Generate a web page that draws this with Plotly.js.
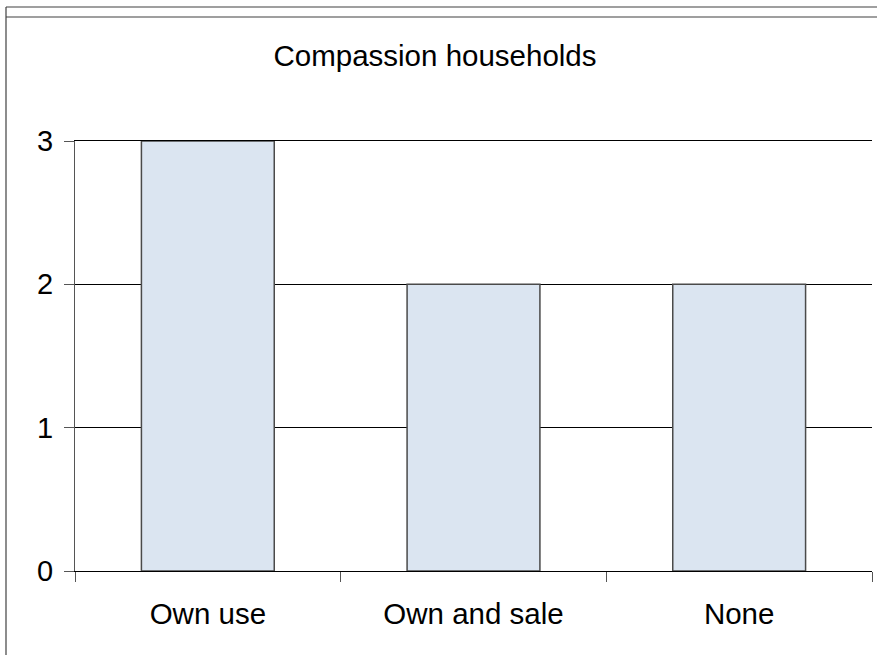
<!DOCTYPE html>
<html>
<head>
<meta charset="utf-8">
<script src="https://cdn.plot.ly/plotly-3.0.1.min.js"></script>
<style>html,body{margin:0;padding:0;background:#fff;}#chart{width:877px;height:655px;}</style>
</head>
<body>
<div id="chart"></div>
<script>
var categories = ["Own use", "Own and sale", "None"];
var values = [3, 2, 2];
var yTicks = [0, 1, 2, 3];
var chartTitle = "Compassion households";

var L = 75, R = 5, T = 141, B = 84, W = 877, H = 655;
var pw = W - L - R, ph = H - T - B;
function px(x){ return (x - L) / pw; }
function py(y){ return (H - B - y) / ph; }

var trace = {
  type: "bar",
  x: categories,
  y: values,
  width: 0.5,
  marker: {color: "#DBE5F1", line: {color: "#4a4a4a", width: 1.5}},
  hoverinfo: "none"
};

var lineStyle = {color: "#404040", width: 1.2};
var layout = {
  width: W, height: H,
  margin: {l: L, r: R, t: T, b: B, pad: 0},
  paper_bgcolor: "#ffffff",
  plot_bgcolor: "#ffffff",
  showlegend: false,
  font: {family: "Liberation Sans, Arial, sans-serif", color: "#000", size: 29},
  title: {text: chartTitle, font: {size: 29.5, color: "#000"}, x: 435 / W, xanchor: "center",
          xref: "container", y: 1 - 56/H, yref: "container", yanchor: "middle"},
  xaxis: {
    type: "category",
    range: [-0.5, 2.5],
    showline: true, linecolor: "#000", linewidth: 1, mirror: true,
    ticks: "outside", tickson: "boundaries", ticklen: 10, tickcolor: "#555", tickwidth: 1,
    showgrid: false, zeroline: false,
    tickfont: {size: 29.5, color: "#000"},
    ticklabelstandoff: 17,
    fixedrange: true
  },
  yaxis: {
    range: [0, 3],
    tickvals: yTicks,
    ticktext: yTicks.map(String),
    showline: true, linecolor: "#555", linewidth: 1,
    ticks: "outside", ticklen: 10, tickcolor: "#555", tickwidth: 1,
    showgrid: true, gridcolor: "#000", gridwidth: 1,
    zeroline: false,
    tickfont: {size: 29, color: "#000"},
    ticklabelstandoff: 5,
    fixedrange: true
  },
  shapes: [
    {type: "line", xref: "paper", yref: "paper", x0: px(6), x1: px(877), y0: py(7), y1: py(7), line: lineStyle},
    {type: "line", xref: "paper", yref: "paper", x0: px(6), x1: px(877), y0: py(17), y1: py(17), line: lineStyle},
    {type: "line", xref: "paper", yref: "paper", x0: px(6), x1: px(6), y0: py(7), y1: py(655), line: lineStyle}
  ]
};

Plotly.newPlot("chart", [trace], layout, {displayModeBar: false, staticPlot: true});
</script>
</body>
</html>
